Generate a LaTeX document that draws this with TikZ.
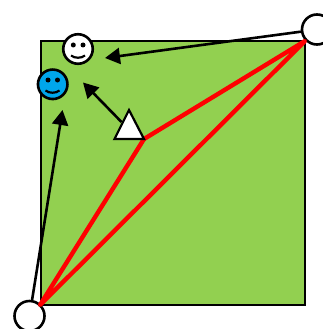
\documentclass[tikz,border=0pt]{standalone}
\usetikzlibrary{arrows.meta,shapes.geometric}
\definecolor{leaf}{RGB}{146,208,80}
\definecolor{sky}{RGB}{0,166,235}
\tikzset{
  every picture/.style={x=1pt,y=-1pt},
  field/.style={draw=black,line width=2pt,fill=leaf},
  link/.style={draw=red,line width=4.4pt,line join=round},
  pointer/.style={draw=black,line width=2.6pt,-{Triangle[length=15pt,width=16pt]},shorten >=0pt},
  post/.style={circle,draw=black,line width=2.6pt,fill=white,minimum size=30pt,inner sep=0pt},
  face/.style={circle,draw=black,line width=2.6pt,minimum size=29.5pt,inner sep=0pt},
  eye/.style={fill=black,circle,inner sep=0pt,minimum size=5pt},
  tri/.style={draw=black,line width=2.2pt,fill=white,line join=miter}
}
\begin{document}
\begin{tikzpicture}
\useasboundingbox (0,0) rectangle (323,329);
\begin{scope}
\clip (0,0) rectangle (323,329);
\draw[field] (41,41) rectangle (305,305);
\coordinate (cornerA) at (40,305);
\coordinate (cornerB) at (305,41);
\coordinate (hub) at (144,139);
\coordinate (tipWhite) at (105,58);
\coordinate (tipMid) at (83,82.5);
\coordinate (tipBlue) at (62.5,110);
\coordinate (triTail) at (121.5,122);
\node[post] (postA) at (29.5,316) {};
\node[post] (postB) at (317,29.5) {};
\draw[link] (cornerA) -- (hub) -- (cornerB) -- cycle;
\draw[tri] (129,110) -- (144,139) -- (114.5,139) -- cycle;
\draw[pointer] (postB) -- (tipWhite);
\draw[pointer] (triTail) -- (tipMid);
\draw[pointer] (postA) -- (tipBlue);
\node[face,fill=white] (whiteFace) at (78,49) {};
\node[eye] at (73.3,45) {};
\node[eye] at (83,45) {};
\draw[black,line width=2.2pt] (71,55.5) .. controls (75,58.5) and (81,58.5) .. (85,55.5);
\node[face,fill=sky] (blueFace) at (52.7,84.3) {};
\node[eye] at (48,80) {};
\node[eye] at (57.5,80) {};
\draw[black,line width=2.2pt] (45.5,90.5) .. controls (49.5,93.5) and (55.5,93.5) .. (59.5,90.5);
\end{scope}
\end{tikzpicture}
\end{document}
